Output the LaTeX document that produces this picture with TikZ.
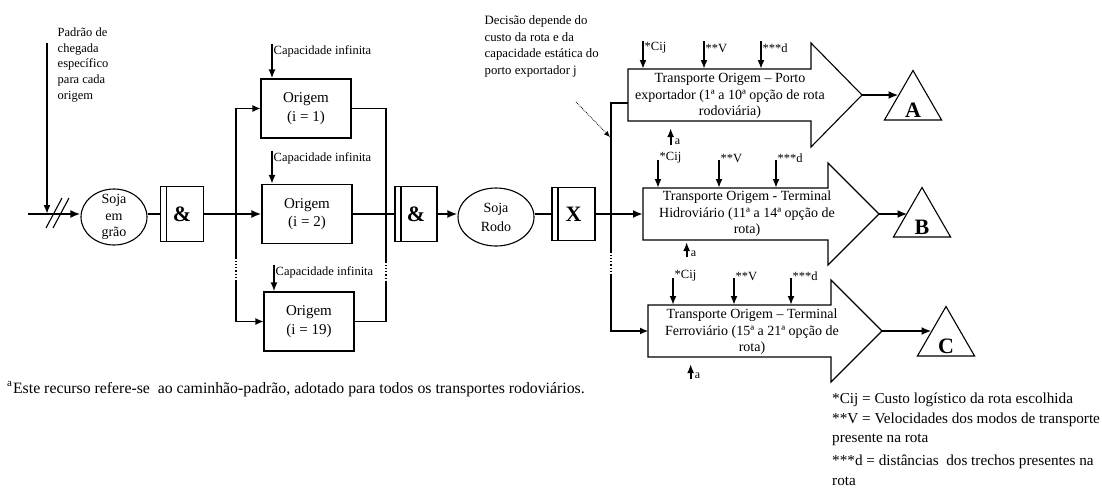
\documentclass[tikz,border=0pt]{standalone}
\usepackage{fontspec}
\setmainfont{Liberation Serif}
\usetikzlibrary{arrows.meta,shapes.geometric}

\begin{document}
\begin{tikzpicture}[x=1pt,y=-1pt,
    wire/.style={line width=1.1pt},
    flow/.style={line width=2.2pt,-{Latex[length=10pt,width=8pt]}},
    feed/.style={line width=1.8pt,-{Latex[length=9pt,width=7pt]}},
    thinflow/.style={line width=1.1pt,-{Latex[length=8pt,width=7pt]}},
    box/.style={draw,line width=1.1pt,minimum width=90pt,minimum height=59pt,
        align=center,font=\fontsize{15}{18.5}\selectfont},
    gate/.style={draw,line width=1.1pt,minimum width=43pt,minimum height=55pt,
        font=\fontsize{22}{22}\selectfont\bfseries,
        path picture={\draw[line width=1.1pt]
            ([xshift=6pt]path picture bounding box.north west) --
            ([xshift=6pt]path picture bounding box.south west);}},
    stock/.style={draw,ellipse,line width=1.1pt,inner sep=0pt},
    stocktxt/.style={align=center,font=\fontsize{14}{16.5}\selectfont},
    txt/.style={align=center,font=\fontsize{14}{16.5}\selectfont},
    lbl/.style={font=\fontsize{12.5}{15.7}\selectfont,inner sep=1.5pt},
    sub/.style={font=\fontsize{12}{12}\selectfont,inner sep=0pt},
    dest/.style={draw,regular polygon,regular polygon sides=3,minimum size=66pt,
        inner sep=0pt,line width=1.1pt},
    desttxt/.style={font=\fontsize{22}{22}\selectfont\bfseries,yshift=-6.5pt}]

    \useasboundingbox (0,0) rectangle (1102,491);

    % chegada da soja
    \node[lbl,anchor=north west,align=left] (padrao) at (56,26)
        {Padrão de\\chegada\\específico\\para cada\\origem};
    \coordinate (in) at (28,214);
    \coordinate (chega) at (47,43);
    \draw[feed] (chega) -- (chega |- in);
    \draw[wire] (46,228) -- (62,198);
    \draw[wire] (53,228) -- (69,198);

    \node[stock,minimum width=66pt,minimum height=56pt,
        label={[stocktxt]center:Soja\\em\\grão}] (soja) at (114,217) {};
    \draw[flow] (in) -- (in -| soja.west);

    \node[gate] (and1) at (182,214) {\&};
    \draw[wire] (soja.east |- and1) -- (and1.west);

    % origens
    \node[box] (org1) at (306,108.5) {Origem\\(i = 1)};
    \node[box] (org2) at (307,214) {Origem\\(i = 2)};
    \node[box] (org19) at (309,321.5) {Origem\\(i = 19)};

    \draw[flow] (and1.east) -- (org2.west);

    \coordinate (lt) at (236,258);
    \coordinate (lb) at (236,280);
    \draw[thinflow] (lt) -- (lt |- org1) -- (org1.west);
    \draw[wire,dotted] (lt) -- (lb);
    \draw[thinflow] (lb) -- (lb |- org19) -- (org19.west);

    \node[lbl,anchor=west] (cap1) at (272,51) {Capacidade infinita};
    \node[lbl,anchor=west] (cap2) at (272,158) {Capacidade infinita};
    \node[lbl,anchor=west] (cap3) at (274,272) {Capacidade infinita};
    \draw[feed] (cap1.north west) -- (cap1.north west |- org1.north);
    \draw[feed] (cap2.north west) -- (cap2.north west |- org2.north);
    \draw[feed] (cap3.north west) -- (cap3.north west |- org19.north);

    \node[gate,minimum width=42pt] (and2) at (416,214) {\&};

    \coordinate (rt) at (386,262);
    \coordinate (rb) at (386,282);
    \draw[wire] (org1.east) -| (rt);
    \draw[wire,dotted] (rt) -- (rb);
    \draw[wire] (org19.east) -| (rb);
    \draw[wire] (org2.east) -- (and2.west);

    % soja rodo e escolha da rota
    \node[stock,minimum width=76pt,minimum height=58pt,
        label={[stocktxt,font=\fontsize{14}{19}\selectfont]center:Soja\\Rodo}] (rodo) at (496,217) {};
    \draw[flow] (and2.east) -- (and2.east -| rodo.west);

    \node[gate,minimum height=53pt] (xgate) at (573.5,214) {X};
    \draw[wire] (rodo.east |- xgate) -- (xgate.west);

    \node[lbl,anchor=north west,align=left,font=\fontsize{12.75}{16.6}\selectfont] (decisao) at (483,14)
        {Decisão depende do\\custo da rota e da\\capacidade estática do\\porto exportador j};
    \coordinate (ptr) at (576,102);
    \coordinate (ptrend) at (610,137);
    \draw[line width=0.8pt,densely dotted,-{Latex[length=6pt,width=5pt]}] (ptr) -- (ptrend);

    % rotas
    \draw[wire] (628,69) -- (811,69) -- (811,43) -- (862,95) coordinate (tip1)
        -- (811,147) -- (811,121) -- (628,121) -- cycle;
    \coordinate (top1) at (628,69);
    \coordinate (p1) at (628,103);
    \node[txt] (t1) at (730,96)
        {Transporte Origem – Porto\\exportador (1ª a 10ª opção de rota\\rodoviária)};

    \draw[wire] (643,188) -- (828,188) -- (828,163) -- (879,214) coordinate (tip2)
        -- (828,265) -- (828,240) -- (643,240) -- cycle;
    \coordinate (top2) at (643,188);
    \coordinate (r2) at (643,214);
    \node[txt] (t2) at (747,214)
        {Transporte Origem - Terminal\\Hidroviário (11ª a 14ª opção de\\rota)};

    \draw[wire] (648,305) -- (831,305) -- (831,280) -- (882,331) coordinate (tip3)
        -- (831,382) -- (831,357) -- (648,357) -- cycle;
    \coordinate (top3) at (648,305);
    \coordinate (p3) at (648,331);
    \node[txt] (t3) at (752,332)
        {Transporte Origem – Terminal\\Ferroviário (15ª a 21ª opção de\\rota)};

    \foreach \x/\s in {643/*Cij,704/**V,761/***d}{
        \node[lbl,anchor=west] (u\x) at (\x,48) {\s};
        \draw[feed] ([yshift=7pt]u\x.west) -- (u\x.west |- top1);
    }
    \foreach \x/\s in {658/*Cij,719/**V,776/***d}{
        \node[lbl,anchor=west] (v\x) at (\x,158) {\s};
        \draw[feed] ([yshift=-2pt]v\x.west) -- (v\x.west |- top2);
    }
    \foreach \x/\s in {673/*Cij,734/**V,791/***d}{
        \node[lbl,anchor=west] (w\x) at (\x,276) {\s};
        \draw[feed] ([yshift=-2pt]w\x.west) -- (w\x.west |- top3);
    }

    \node[sub] (a1) at (677.5,142) {a};
    \node[sub] (a2) at (693.5,254) {a};
    \node[sub] (a3) at (697.5,376) {a};
    \draw[feed] ([xshift=-4pt]a1.south west) -- ++(0,-17);
    \draw[feed] ([xshift=-4pt]a2.south west) -- ++(0,-15);
    \draw[feed] ([xshift=-4pt]a3.south west) -- ++(0,-15);

    \draw[flow] (xgate.east) -- (r2);

    \coordinate (dt) at (611,252);
    \coordinate (db) at (611,275);
    \draw[wire] (dt) |- (p1);
    \draw[wire,dotted] (dt) -- (db);
    \draw[thinflow] (db) |- (p3);

    % destinos
    \node[dest,label={[desttxt]center:A}] (A) at (913,103.5) {};
    \node[dest,label={[desttxt]center:B}] (B) at (922,220.5) {};
    \node[dest,label={[desttxt]center:C}] (C) at (946,339.5) {};
    \draw[flow,shorten >=14.5pt] (tip1) -- (tip1 -| A.north);
    \draw[flow,shorten >=14.5pt] (tip2) -- (tip2 -| B.north);
    \draw[flow,shorten >=14.5pt] (tip3) -- (tip3 -| C.north);

    % notas
    \node[anchor=base west,inner sep=0pt,font=\fontsize{15.8}{18}\selectfont] (nota) at (7,393)
        {\raisebox{7pt}{\fontsize{11}{11}\selectfont a}\hspace{1pt}Este recurso refere-se\ \ ao caminhão-padrão, adotado para todos os transportes rodoviários.};
    \node[anchor=north west,align=left,inner sep=0pt,font=\fontsize{15.2}{19.4}\selectfont] (chave) at (832,393)
        {*Cij = Custo logístico da rota escolhida\\**V = Velocidades dos modos de transporte\\presente na rota\\[4pt]***d = distâncias\ \ dos trechos presentes na\\rota};
\end{tikzpicture}
\end{document}
